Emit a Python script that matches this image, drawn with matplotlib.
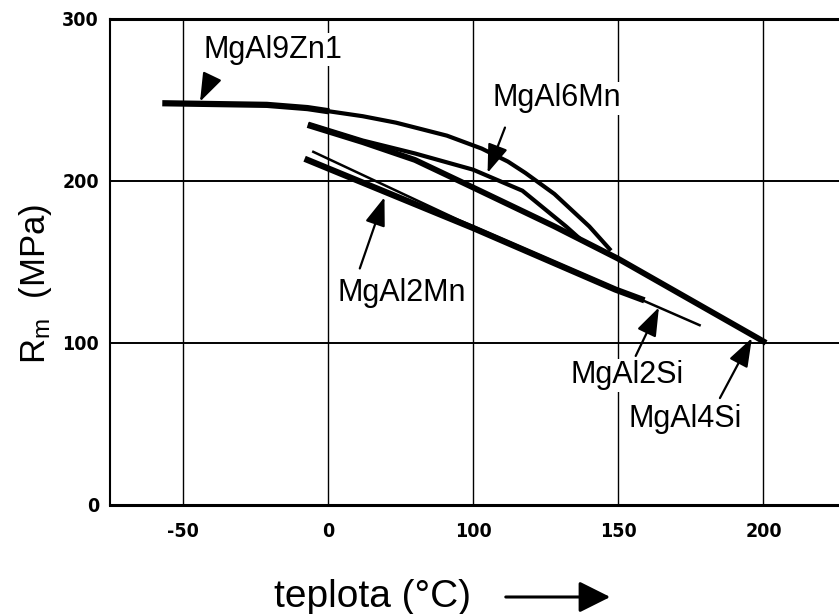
import numpy as np
import matplotlib
matplotlib.use('Agg')
from matplotlib import pyplot as plt
from matplotlib.font_manager import FontProperties
from matplotlib.patches import FancyArrowPatch

plt.rcParams['font.family'] = ['Liberation Sans', 'DejaVu Sans']
plt.rcParams['mathtext.fontset'] = 'custom'
plt.rcParams['mathtext.rm'] = 'Liberation Sans'
plt.rcParams['mathtext.it'] = 'Liberation Sans'

# osa x: dilky -50, 0, 100, 150, 200 jsou ve stejnych rozestupech
x_ticks = [-50, 0, 100, 150, 200]
y_ticks = [0, 100, 200, 300]

# MgAl9Zn1 - plocha cast a horni krivka
zn1_t = [-57, -21, -7, 1, 24, 47, 82, 103, 112, 118, 128, 140, 147]
zn1_r = [248, 247, 245, 243, 240, 236, 228, 220, 212, 205, 192, 172, 158]

# MgAl6Mn
mn6_t = [-6, 24, 60, 100, 117, 132, 137]
mn6_r = [235, 225, 217, 207, 194, 172, 164]

# MgAl4Si
si4_t = [-6, 24, 60, 100, 128, 150, 200]
si4_r = [234, 224, 213, 196, 172, 152, 101]

# MgAl2Mn
mn2_t = [-7, 100, 149, 158]
mn2_r = [213, 171, 133, 127]

# MgAl2Si
si2_t = [-5, 90, 178]
si2_r = [218, 176, 111]

# popisky: text, poloha textu, spicka sipky, zacatek sipky
labels = ['MgAl9Zn1', 'MgAl6Mn', 'MgAl2Mn', 'MgAl2Si', 'MgAl4Si']
label_xy = [(-19, 281), (129, 251), (51, 131), (153, 80), (173, 53)]
arrow_tip = [(-44, 249), (105, 205), (39, 190), (164, 122), (196, 103)]
arrow_tail = [(-40, 264), (111, 233), (22, 146), (156, 92), (185, 66)]

brk_t = [-100, -50, 0, 100, 150, 200, 300]
brk_u = [-100, -50, 0, 50, 100, 150, 250]


def fwd(x):
    return np.interp(x, brk_t, brk_u)


def inv(u):
    return np.interp(u, brk_u, brk_t)


fig = plt.figure(figsize=(8.39, 6.14), dpi=100)
ax = fig.add_axes([110 / 839, 109 / 614, 1 - 110 / 839, 486 / 614])
ax.set_xscale('function', functions=(fwd, inv))
ax.set_xlim(-75, 226)
ax.set_ylim(0, 300)

ax.set_xticks(x_ticks)
ax.set_xticklabels([str(v) for v in x_ticks])
ax.set_yticks(y_ticks)
tick_font = FontProperties(family=['Liberation Sans Narrow', 'DejaVu Sans'],
                           weight='bold', stretch='condensed', size=14)
for lab in ax.get_xticklabels() + ax.get_yticklabels():
    lab.set_fontproperties(tick_font)
ax.tick_params(axis='both', length=0)
ax.tick_params(axis='x', pad=12)
ax.tick_params(axis='y', pad=8)

ax.xaxis.grid(True, color='black', lw=1.0)
ax.yaxis.grid(True, color='black', lw=1.4)
ax.set_axisbelow(True)
ax.spines['right'].set_visible(False)
ax.spines['top'].set_linewidth(2.2)
ax.spines['bottom'].set_linewidth(2.2)
ax.spines['left'].set_linewidth(1.5)

ax.plot(zn1_t[:4], zn1_r[:4], color='black', lw=4.5, solid_capstyle='butt', zorder=3)
ax.plot(zn1_t[3:], zn1_r[3:], color='black', lw=3.0, zorder=3)
ax.plot(mn6_t, mn6_r, color='black', lw=3.0, zorder=3)
ax.plot(si4_t, si4_r, color='black', lw=4.2, zorder=3)
ax.plot(mn2_t, mn2_r, color='black', lw=4.5, zorder=3)
ax.plot(si2_t, si2_r, color='black', lw=1.8, zorder=3)

for txt, xy, tip, tail in zip(labels, label_xy, arrow_tip, arrow_tail):
    ax.text(xy[0], xy[1], txt, fontsize=22, ha='center', va='center', zorder=4,
            bbox=dict(facecolor='white', edgecolor='none', pad=1))
    ax.annotate('', xy=tip, xytext=tail, zorder=5,
                arrowprops=dict(arrowstyle='-|>,head_length=0.7,head_width=0.25',
                                color='black', lw=1.6, mutation_scale=25,
                                shrinkA=0, shrinkB=0))

fig.text(35 / 839, 1 - 284 / 614, r'R$_\mathrm{m}$  (MPa)', fontsize=25,
         rotation=90, ha='center', va='center')
fig.text(372 / 839, 1 - 597 / 614, 'teplota (°C)', fontsize=28, ha='center', va='center')
fig.add_artist(FancyArrowPatch(
    (503 / 839, 1 - 597 / 614), (613 / 839, 1 - 597 / 614),
    transform=fig.transFigure, arrowstyle='-|>,head_length=0.6,head_width=0.3',
    mutation_scale=32, lw=2.2, color='black'))

fig.savefig('out.png', dpi=100)
